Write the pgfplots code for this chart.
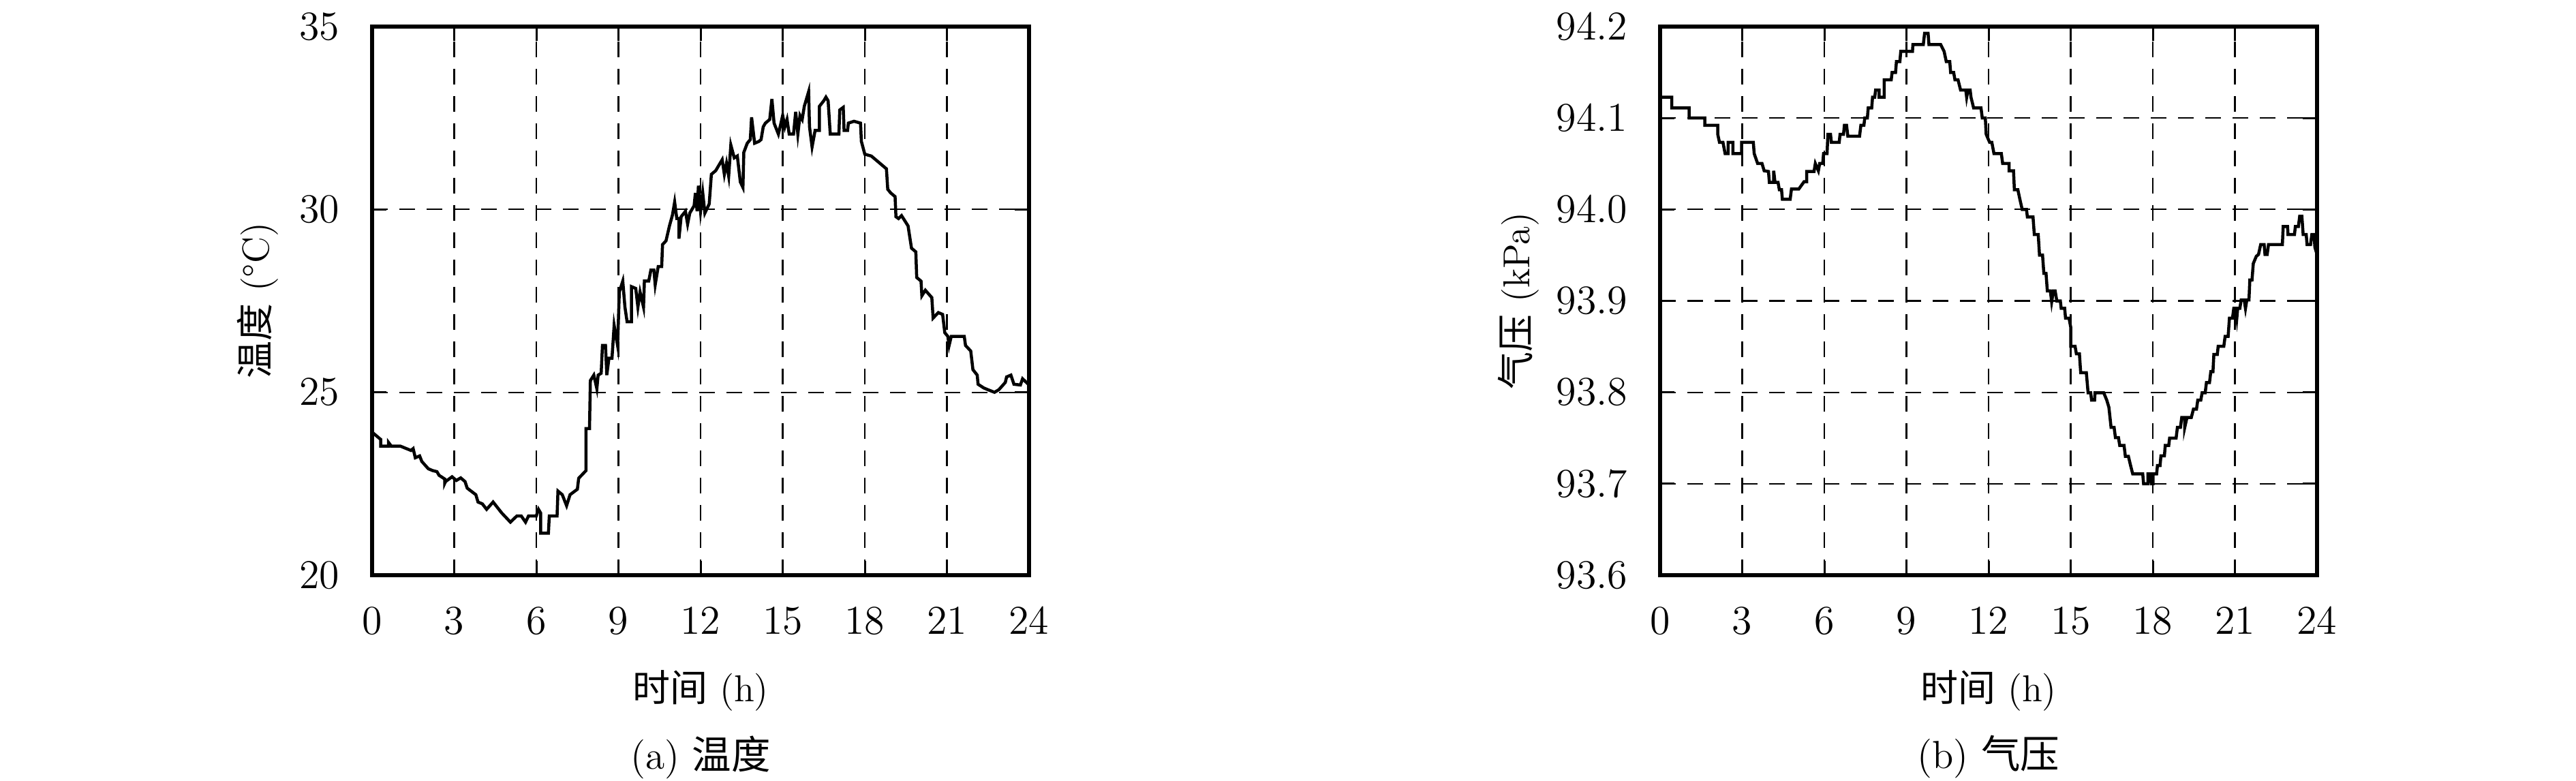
\documentclass[border=0pt]{standalone}
\usepackage{fontspec}
\usepackage{pgfplots}
\pgfplotsset{compat=1.18}
\newfontfamily\cjk{Noto Sans CJK SC}
\begin{document}
\begin{tikzpicture}
\path[use as bounding box] (0,0) rectangle (756pt,229.2pt);
\pgfplotsset{
  myax/.style={
    scale only axis, width=192.8pt, height=161pt, anchor=south west,
    xmin=0, xmax=24, xtick={0,3,...,24},
    grid=major,
    major grid style={black, line width=0.45pt, dash pattern=on 4.5pt off 3.5pt},
    axis line style={line width=1.1pt},
    tick style={black, line width=0.6pt},
    ticklabel style={font=\large},
    xticklabel shift=6pt, yticklabel shift=6pt,
    label style={font=\fontsize{11}{13}\selectfont},
    xlabel={{\cjk 时间} (h)},
    xlabel style={at={(axis description cs:0.5,-0.21)}, anchor=center},
  }
}
\begin{axis}[myax, at={(109.2pt,60.4pt)},
  ymin=20, ymax=35, ytick={20,25,30,35},
  ylabel={{\cjk 温度} (\textdegree C)},
  ylabel style={at={(axis description cs:-0.174,0.5)}, anchor=center}]
\addplot[black, line width=0.9pt] coordinates {
(0,23.91)(0.316,23.71)(0.316,23.53)(0.60,23.53)(0.60,23.63)(0.70,23.53)(1.026,23.53)(1.421,23.41)(1.50,23.46)(1.579,23.21)(1.737,23.26)(1.816,23.11)(2.053,22.91)(2.211,22.86)(2.369,22.83)(2.448,22.73)(2.653,22.63)(2.653,22.51)(2.684,22.56)(2.921,22.69)(3.079,22.59)(3.237,22.66)(3.395,22.56)(3.474,22.38)(3.79,22.20)(3.869,22.00)(4.027,21.95)(4.184,21.80)(4.421,22.00)(4.579,21.85)(4.737,21.70)(5.053,21.45)(5.29,21.62)(5.448,21.62)(5.606,21.45)(5.716,21.62)(6.0,21.62)(6.079,21.80)(6.158,21.70)(6.158,21.15)(6.442,21.15)(6.474,21.62)(6.758,21.62)(6.79,22.30)(6.948,22.20)(7.106,21.90)(7.232,22.20)(7.5,22.35)(7.548,22.65)(7.816,22.86)(7.816,24.01)(7.943,24.01)(7.974,25.32)(8.10,25.47)(8.211,25.10)(8.258,25.47)(8.369,25.52)(8.416,26.28)(8.527,26.28)(8.574,25.47)(8.653,25.93)(8.764,25.93)(8.843,26.83)(8.969,26.28)(9.032,27.74)(9.158,28.04)(9.237,27.33)(9.316,26.93)(9.474,26.93)(9.474,27.89)(9.632,27.84)(9.711,27.33)(9.79,27.74)(9.916,27.33)(9.948,28.04)(10.106,28.04)(10.185,28.34)(10.295,28.34)(10.343,27.94)(10.453,28.44)(10.58,28.44)(10.611,29.04)(10.737,29.14)(10.864,29.55)(10.974,29.85)(11.053,30.20)(11.132,29.75)(11.211,29.75)(11.211,29.20)(11.29,29.80)(11.448,29.95)(11.527,29.60)(11.606,29.90)(11.764,30.10)(11.811,30.45)(11.874,29.95)(11.922,30.65)(12.0,29.95)(12.08,30.45)(12.158,29.90)(12.316,30.15)(12.395,30.96)(12.553,31.06)(12.632,31.16)(12.79,31.36)(12.869,30.96)(12.948,31.26)(13.027,30.91)(13.106,31.76)(13.232,31.41)(13.343,31.46)(13.453,30.75)(13.548,30.60)(13.58,31.56)(13.706,31.81)(13.817,31.91)(13.864,32.52)(13.975,31.81)(14.133,31.86)(14.211,31.91)(14.29,32.26)(14.369,32.36)(14.527,32.46)(14.606,33.02)(14.685,32.36)(14.843,32.06)(14.922,32.31)(15.0,32.57)(15.08,32.26)(15.159,32.46)(15.238,32.06)(15.396,32.06)(15.475,32.67)(15.554,32.06)(15.633,32.57)(15.712,32.46)(15.79,32.82)(15.948,33.22)(15.98,32.26)(16.074,31.71)(16.185,32.16)(16.343,32.16)(16.343,32.82)(16.5,32.97)(16.58,33.07)(16.66,32.97)(16.738,32.06)(17.054,32.06)(17.085,32.72)(17.212,32.79)(17.243,32.16)(17.37,32.16)(17.40,32.36)(17.606,32.41)(17.843,32.36)(17.875,31.86)(18.0,31.51)(18.238,31.46)(18.475,31.31)(18.79,31.11)(18.838,30.55)(18.948,30.45)(19.106,30.35)(19.138,29.80)(19.232,29.75)(19.343,29.83)(19.58,29.55)(19.706,28.94)(19.864,28.84)(19.896,28.14)(20.054,28.04)(20.085,27.64)(20.212,27.79)(20.448,27.59)(20.496,27.03)(20.685,27.18)(20.843,27.13)(20.922,26.63)(21.033,26.53)(21.08,26.28)(21.159,26.53)(21.633,26.53)(21.68,26.28)(21.87,26.13)(21.95,25.62)(22.107,25.47)(22.138,25.22)(22.344,25.12)(22.5,25.07)(22.738,25.00)(22.896,25.07)(23.133,25.27)(23.18,25.42)(23.338,25.47)(23.448,25.22)(23.685,25.20)(23.764,25.37)(24.0,25.20)
};
\end{axis}
\begin{axis}[myax, at={(487.2pt,60.4pt)},
  ymin=93.6, ymax=94.2, ytick={93.6,93.7,...,94.2},
  yticklabel style={/pgf/number format/.cd, fixed, zerofill, precision=1},
  ylabel={{\cjk 气压} (kPa)},
  ylabel style={at={(axis description cs:-0.216,0.5)}, anchor=center}]
\addplot[black, line width=0.9pt] coordinates {
(0,94.1227)(0.428,94.1227)(0.428,94.1111)(1.061,94.1111)(1.061,94.1)(1.632,94.1)(1.632,94.092)(2.107,94.092)(2.107,94.0821)(2.17,94.0733)(2.297,94.0733)(2.376,94.061)(2.487,94.061)(2.487,94.0733)(2.661,94.0733)(2.661,94.061)(2.978,94.061)(2.978,94.0733)(3.406,94.0733)(3.438,94.061)(3.564,94.0502)(3.723,94.0502)(3.802,94.0423)(3.96,94.0415)(3.992,94.0296)(4.15,94.0296)(4.15,94.0423)(4.198,94.0296)(4.309,94.0296)(4.356,94.0216)(4.436,94.0216)(4.467,94.0112)(4.752,94.0112)(4.8,94.0224)(5.069,94.0224)(5.259,94.0303)(5.354,94.0303)(5.354,94.0415)(5.624,94.0415)(5.671,94.0502)(5.782,94.0423)(5.83,94.0502)(5.941,94.0502)(5.972,94.061)(6.099,94.061)(6.131,94.0821)(6.226,94.0821)(6.257,94.0733)(6.543,94.0733)(6.574,94.0821)(6.701,94.0821)(6.733,94.092)(6.812,94.092)(6.859,94.0801)(7.287,94.0801)(7.335,94.092)(7.446,94.092)(7.477,94.1)(7.572,94.1)(7.604,94.1111)(7.731,94.1111)(7.762,94.1227)(7.842,94.1227)(7.873,94.1306)(8.0,94.1306)(8.0,94.1227)(8.19,94.1227)(8.19,94.1418)(8.444,94.1418)(8.475,94.1498)(8.602,94.1498)(8.634,94.1617)(8.76,94.1617)(8.792,94.1728)(9.22,94.1728)(9.236,94.1804)(9.616,94.1804)(9.663,94.1927)(9.79,94.1927)(9.822,94.1804)(10.25,94.1804)(10.376,94.1728)(10.455,94.1617)(10.582,94.1617)(10.614,94.1498)(10.725,94.1498)(10.772,94.1418)(10.883,94.1418)(10.978,94.1306)(11.168,94.1306)(11.2,94.1227)(11.248,94.1306)(11.327,94.1306)(11.358,94.1227)(11.453,94.1111)(11.723,94.1111)(11.77,94.1)(11.881,94.1)(11.913,94.0821)(12.04,94.0733)(12.119,94.0733)(12.198,94.061)(12.467,94.061)(12.515,94.0502)(12.752,94.0502)(12.752,94.0423)(12.911,94.0423)(12.943,94.0216)(13.069,94.0216)(13.149,94.0104)(13.228,94.0)(13.386,94.0)(13.418,93.9917)(13.624,93.9917)(13.671,93.9726)(13.814,93.9726)(13.861,93.95)(13.972,93.95)(14.02,93.93)(14.099,93.93)(14.147,93.9109)(14.257,93.9109)(14.305,93.899)(14.368,93.9109)(14.432,93.9109)(14.495,93.8998)(14.622,93.8998)(14.653,93.8918)(14.78,93.8918)(14.812,93.8811)(14.939,93.8811)(15.002,93.8711)(15.002,93.8504)(15.16,93.8504)(15.208,93.8421)(15.319,93.8421)(15.366,93.8214)(15.572,93.8214)(15.636,93.7995)(15.731,93.7995)(15.762,93.7915)(15.873,93.7915)(15.889,93.7995)(16.206,93.7995)(16.317,93.7915)(16.396,93.7836)(16.475,93.7617)(16.586,93.7617)(16.634,93.7505)(16.745,93.7505)(16.792,93.7418)(16.95,93.7418)(16.998,93.7299)(17.109,93.7299)(17.188,93.7199)(17.267,93.7107)(17.632,93.7107)(17.663,93.7)(17.822,93.7)(17.822,93.7107)(17.901,93.7107)(17.949,93.7)(18.012,93.7)(18.012,93.7107)(18.139,93.7107)(18.17,93.7199)(18.265,93.7199)(18.297,93.7306)(18.424,93.7306)(18.455,93.7418)(18.582,93.7418)(18.614,93.7498)(18.851,93.7498)(18.899,93.7617)(19.01,93.7617)(19.057,93.7724)(19.168,93.7724)(19.168,93.7617)(19.248,93.7724)(19.406,93.7724)(19.485,93.7816)(19.596,93.7816)(19.644,93.7915)(19.754,93.7915)(19.802,93.7995)(19.913,93.7995)(19.96,93.8107)(20.071,93.8107)(20.119,93.8226)(20.198,93.8226)(20.23,93.8413)(20.356,93.8413)(20.388,93.8504)(20.594,93.8504)(20.642,93.8612)(20.752,93.8612)(20.8,93.8811)(20.911,93.8811)(20.958,93.8918)(21.022,93.8918)(21.069,93.8811)(21.101,93.8918)(21.18,93.8918)(21.228,93.901)(21.339,93.901)(21.386,93.8918)(21.434,93.901)(21.513,93.901)(21.545,93.9229)(21.624,93.9229)(21.671,93.9408)(21.782,93.9488)(21.861,93.9507)(21.941,93.9615)(22.067,93.9615)(22.099,93.9507)(22.178,93.9507)(22.226,93.9615)(22.733,93.9615)(22.764,93.9814)(22.923,93.9814)(22.939,93.9726)(23.176,93.9726)(23.208,93.9814)(23.319,93.9814)(23.366,93.9925)(23.446,93.9925)(23.493,93.9726)(23.604,93.9726)(23.636,93.9615)(23.762,93.9615)(23.81,93.9726)(23.889,93.9726)(23.921,93.9587)(24.0,93.9507)
};
\end{axis}
\node[font=\fontsize{11.5}{13}\selectfont] at (205.6pt,7pt) {(a) {\cjk 温度}};
\node[font=\fontsize{11.5}{13}\selectfont] at (583.6pt,7pt) {(b) {\cjk 气压}};
\end{tikzpicture}
\end{document}
